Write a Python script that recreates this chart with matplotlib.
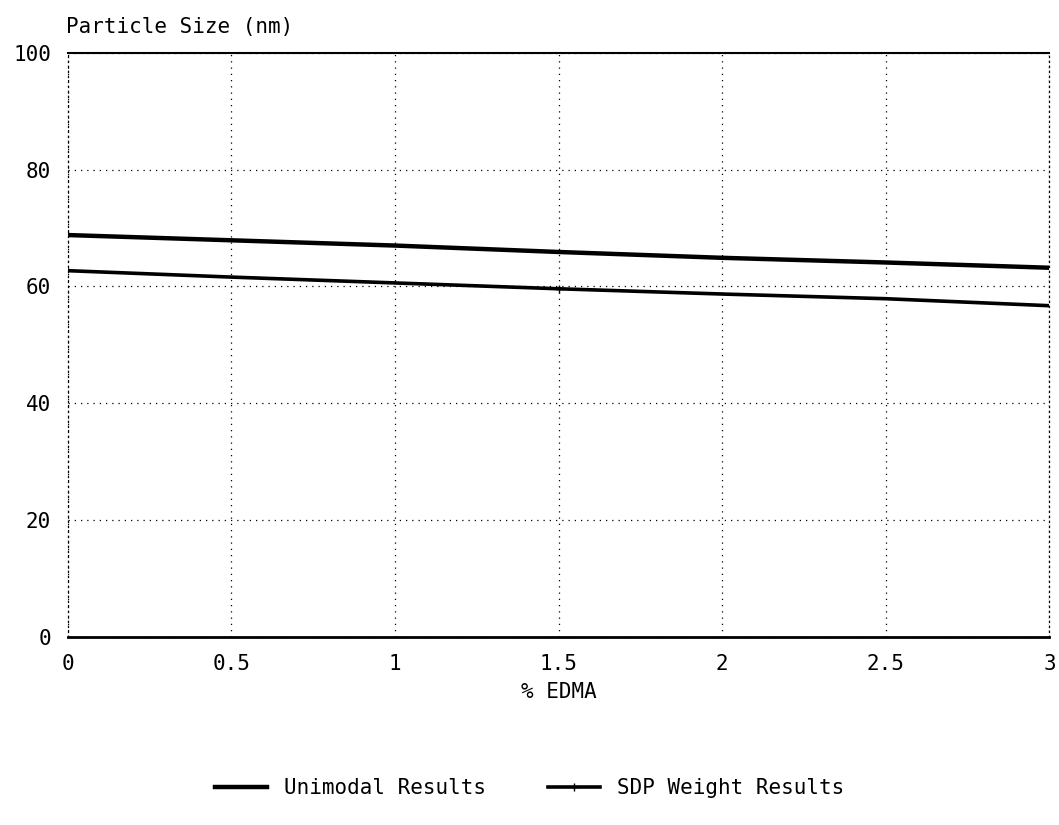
import numpy as np
import matplotlib.pyplot as plt

# values
edma = [0, 0.5, 1, 1.5, 2, 2.5, 3]
unimodal = [68.8, 67.9, 67.0, 65.9, 64.9, 64.1, 63.2]
sdp_weight = [62.7, 61.6, 60.6, 59.6, 58.7, 57.9, 56.7]
xticks = [0, 0.5, 1, 1.5, 2, 2.5, 3]
xticklabels = ['0', '0.5', '1', '1.5', '2', '2.5', '3']
yticks = [0, 20, 40, 60, 80, 100]

plt.rcParams['font.family'] = ['DejaVu Sans Mono']

fig = plt.figure(figsize=(10.59, 8.25), dpi=100)
ax = fig.add_axes([0.064, 0.228, 0.927, 0.708])

ax.plot(edma, unimodal, color='black', lw=3.2, label='Unimodal Results')
ax.plot(edma, sdp_weight, color='black', lw=2.6, marker='+', markersize=6,
        markevery=[3], label='SDP Weight Results')

ax.set_xlim(0, 3)
ax.set_ylim(0, 100)
ax.set_xticks(xticks)
ax.set_xticklabels(xticklabels)
ax.set_yticks(yticks)
ax.tick_params(length=0, labelsize=15, pad=12)

# dotted grid as in the original
ax.grid(True, linestyle=(0, (1, 4)), color='black', lw=0.9)
for side in ['left', 'right']:
    ax.spines[side].set_linestyle((0, (1, 3)))
    ax.spines[side].set_linewidth(0.9)
ax.spines['top'].set_linewidth(1.5)
ax.spines['bottom'].set_linewidth(2)

ax.set_xlabel('% EDMA', fontsize=15, labelpad=6)
fig.text(0.062, 0.955, 'Particle Size (nm)', fontsize=15, ha='left', va='bottom')

fig.legend(loc='lower center', bbox_to_anchor=(0.5, 0.01), ncol=2, frameon=False,
           fontsize=15, handlelength=2.5, columnspacing=3)

fig.savefig('out.png', dpi=100)
